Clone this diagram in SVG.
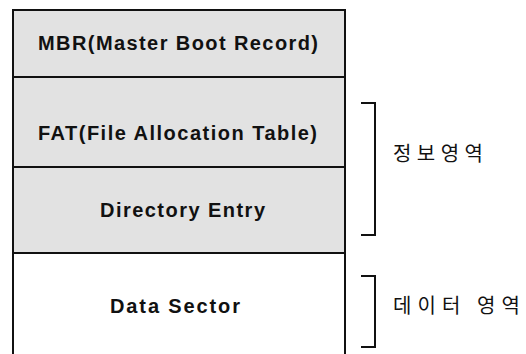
<svg xmlns="http://www.w3.org/2000/svg" width="526" height="354" viewBox="0 0 526 354">
<style>
.gray{fill:#e2e2e2;stroke:none}
.line{stroke:#111;stroke-width:2;fill:none}
.lbl{font-family:"Liberation Sans",Arial,sans-serif;font-weight:bold;font-size:20px;fill:#111}
.kr{font-family:"Noto Sans CJK KR","Noto Sans",sans-serif;font-size:20px;fill:#111}
</style>
<rect width="526" height="354" fill="#fff"/>
<g id="mbr">
<rect class="gray" x="13" y="10" width="332" height="67"/>
<text class="lbl" x="38" y="50" textLength="280" lengthAdjust="spacing">MBR(Master Boot Record)</text>
</g>
<g id="fat">
<rect class="gray" x="13" y="77" width="332" height="90"/>
<text class="lbl" x="38" y="140" textLength="279" lengthAdjust="spacing">FAT(File Allocation Table)</text>
</g>
<g id="dir">
<rect class="gray" x="13" y="167" width="332" height="86"/>
<text class="lbl" x="100" y="217" textLength="165" lengthAdjust="spacing">Directory Entry</text>
</g>
<g id="data">
<rect x="13" y="253" width="332" height="101" fill="#fff"/>
<text class="lbl" x="110" y="313" textLength="130" lengthAdjust="spacing">Data Sector</text>
</g>
<g id="frame">
<path class="line" d="M13,354 V10 H345 V354"/>
<path class="line" d="M13,77 H345 M13,167 H345 M13,253 H345"/>
</g>
<g id="brackets">
<path class="line" d="M361,103 H375 V235 H361" stroke-width="2.5"/>
<path class="line" d="M361,276 H375 V347 H361" stroke-width="2.5"/>
</g>
<g id="info">
<text class="kr" x="393" y="161" textLength="90" lengthAdjust="spacing">정보영역</text>
</g>
<g id="dataarea">
<text class="kr" x="393" y="313" textLength="127" lengthAdjust="spacing">데이터 영역</text>
</g>
</svg>
